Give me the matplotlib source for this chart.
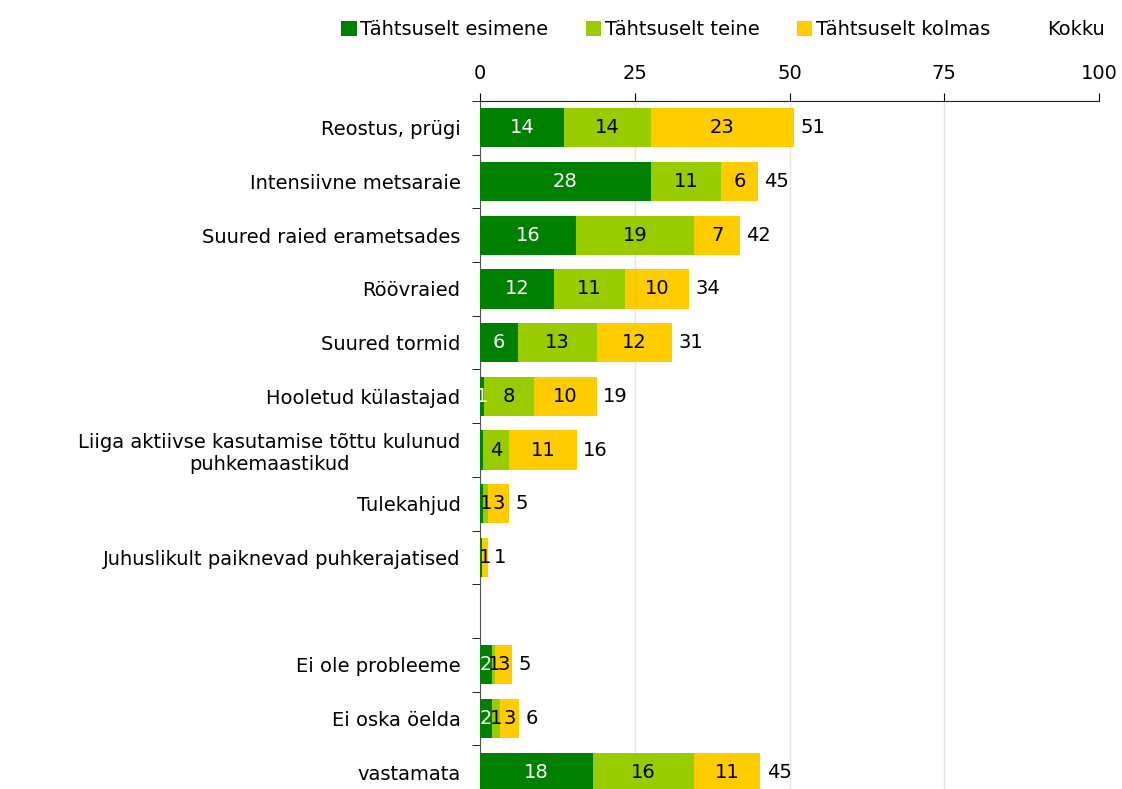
import matplotlib
matplotlib.use("Agg")
import matplotlib.pyplot as plt
from matplotlib.patches import Patch
import numpy as np

plt.rcParams['font.family'] = ['DejaVu Sans']

categories = [
    "Reostus, prügi",
    "Intensiivne metsaraie",
    "Suured raied erametsades",
    "Röövraied",
    "Suured tormid",
    "Hooletud külastajad",
    "Liiga aktiivse kasutamise tõttu kulunud\npuhkemaastikud",
    "Tulekahjud",
    "Juhuslikult paiknevad puhkerajatised",
    "",
    "Ei ole probleeme",
    "Ei oska öelda",
    "vastamata",
]
first = [13.6, 27.6, 15.5, 12.0, 6.1, 0.6, 0.5, 0.5, 0.4, np.nan, 1.9, 1.9, 18.3]
second = [14.0, 11.3, 19.1, 11.4, 12.8, 8.1, 4.2, 0.8, 0.0, np.nan, 0.6, 1.3, 16.3]
third = [23.1, 6.0, 7.4, 10.4, 12.1, 10.2, 11.0, 3.4, 0.9, np.nan, 2.7, 3.1, 10.7]

series_names = ["Tähtsuselt esimene", "Tähtsuselt teine", "Tähtsuselt kolmas"]
colors = ["#008000", "#99CC00", "#FFCC00"]
text_colors = ["white", "black", "black"]
fs = 14

fig = plt.figure(figsize=(11.22, 7.89), dpi=100)
ax = fig.add_axes([480 / 1122, -10 / 789, 619 / 1122, 698 / 789])

y = np.arange(len(categories))
left = np.zeros(len(categories))
for vals, col, tcol in zip([first, second, third], colors, text_colors):
    v = np.nan_to_num(np.array(vals, dtype=float))
    ax.barh(y, v, left=left, height=0.73, color=col, zorder=3)
    for yi, (l, w) in enumerate(zip(left, v)):
        if round(w) > 0:
            ax.text(l + w / 2, yi, f"{round(w)}", ha="center", va="center",
                    color=tcol, fontsize=fs, zorder=4)
    left = left + v

for yi, tot in enumerate(left):
    if categories[yi] and tot > 0:
        ax.text(tot + 1.0, yi, f"{round(tot)}", ha="left", va="center",
                fontsize=fs, color="black", zorder=4)

ax.set_xlim(0, 100)
ax.set_ylim(len(categories) - 0.5, -0.5)
ax.set_xticks([0, 25, 50, 75, 100])
ax.xaxis.tick_top()
ax.tick_params(axis="x", labelsize=fs, length=6, direction="out", pad=7)
ax.grid(axis="x", color="#e6e6e6", linewidth=1, zorder=0)

ax.set_yticks(y)
ax.set_yticklabels(categories, fontsize=fs)
for lbl in ax.get_yticklabels():
    lbl.set_multialignment("center")
ax.tick_params(axis="y", length=0, pad=14)
ax.set_yticks(np.arange(len(categories) + 1) - 0.5, minor=True)
ax.tick_params(axis="y", which="minor", length=6, direction="out")

for s in ["right", "bottom"]:
    ax.spines[s].set_visible(False)
ax.spines["top"].set_color("#222222")
ax.spines["left"].set_color("#555555")

handles = [Patch(facecolor=c, edgecolor="none") for c in colors]
handles.append(Patch(facecolor="none", edgecolor="none"))
fig.legend(handles, series_names + ["Kokku"], loc="upper right",
           bbox_to_anchor=(1.0, 0.997), ncol=4, frameon=False, fontsize=fs,
           handlelength=0.8, handleheight=0.8, handletextpad=0.2,
           columnspacing=1.9)

fig.savefig("out.png", dpi=100)
